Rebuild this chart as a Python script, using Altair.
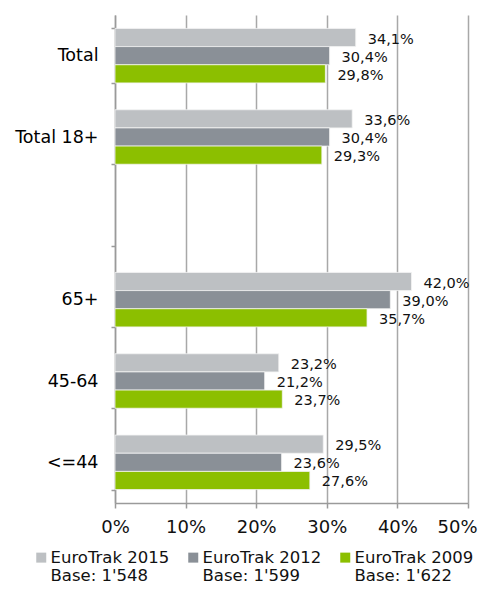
import altair as alt
import pandas as pd

categories = ["Total", "Total 18+", " ", "65+", "45-64", "<=44"]
groups = ["Total", "Total 18+", "65+", "45-64", "<=44"]
series = ["EuroTrak 2015", "EuroTrak 2012", "EuroTrak 2009"]
bases = ["Base: 1'548", "Base: 1'599", "Base: 1'622"]
colors = ["#BDC0C3", "#8A9097", "#8CBF00"]
v2015 = [34.1, 33.6, 42.0, 23.2, 29.5]
v2012 = [30.4, 30.4, 39.0, 21.2, 23.6]
v2009 = [29.8, 29.3, 35.7, 23.7, 27.6]
x_ticks = [0, 10, 20, 30, 40, 50]

rows = []
for s, b, vals in zip(series, bases, [v2015, v2012, v2009]):
    for g, v in zip(groups, vals):
        rows.append({
            "group": g,
            "series": s + "|" + b,
            "value": v,
            "label": f"{v:.1f}".replace(".", ",") + "%",
        })
df = pd.DataFrame(rows)
series_keys = [s + "|" + b for s, b in zip(series, bases)]

FONT = "DejaVu Sans"

y_enc = alt.Y(
    "group:N",
    scale=alt.Scale(domain=categories, paddingInner=0.33, paddingOuter=0.165),
    axis=alt.Axis(
        title=None, tickBand="extent", labelFontSize=17.5, labelColor="#000000",
        labelPadding=13, tickSize=4, tickColor="#9a9a9a", tickWidth=1.5,
        domainColor="#9a9a9a", domainWidth=1.5, grid=False, labelFont=FONT,
    ),
)
yoff = alt.YOffset("series:N", scale=alt.Scale(domain=series_keys, paddingInner=0, paddingOuter=0))
x_enc = alt.X(
    "value:Q",
    scale=alt.Scale(domain=[0, 50], nice=False),
    axis=alt.Axis(
        title=None, values=x_ticks, labelExpr="datum.value + '%'", labelFlush=False,
        labelOffset={"condition": {"test": "datum.value >= 50", "value": -11}, "value": 0},
        labelFontSize=18, labelColor="#111111", labelPadding=10, tickSize=5,
        tickColor="#9a9a9a", tickWidth=1.5, domainColor="#9a9a9a", domainWidth=1.5,
        grid=True, gridColor="#a8a8a8", gridWidth=1.5, labelFont=FONT,
    ),
)

bars = alt.Chart(df).mark_bar(stroke="#f4f4f4", strokeWidth=0.8).encode(
    x=x_enc,
    y=y_enc,
    yOffset=yoff,
    color=alt.Color(
        "series:N",
        scale=alt.Scale(domain=series_keys, range=colors),
        legend=alt.Legend(
            title=None, orient="none", legendX=-82, legendY=534, direction="horizontal",
            columns=3, columnPadding=15, symbolType="square", symbolSize=100,
            symbolStrokeWidth=0, labelFontSize=16.5, labelFont=FONT, labelColor="#111111",
            labelExpr="split(datum.label, '|')", labelOffset=1, labelLimit=300,
        ),
    ),
)

texts = alt.Chart(df).mark_text(
    align="left", baseline="middle", dx=12, dy=2, fontSize=14.5, font=FONT, color="#111111"
).encode(
    x="value:Q",
    y=alt.Y("group:N", scale=alt.Scale(domain=categories, paddingInner=0.33, paddingOuter=0.165)),
    yOffset=yoff,
    text="label:N",
)

chart = alt.layer(bars, texts).properties(
    width=353, height=488,
    autosize=alt.AutoSizeParams(type="none"),
    padding={"left": 107, "top": 7, "right": 10, "bottom": 85},
).configure_view(stroke=None)

chart.save("out.html", embed_options={"renderer": "svg", "actions": False})
